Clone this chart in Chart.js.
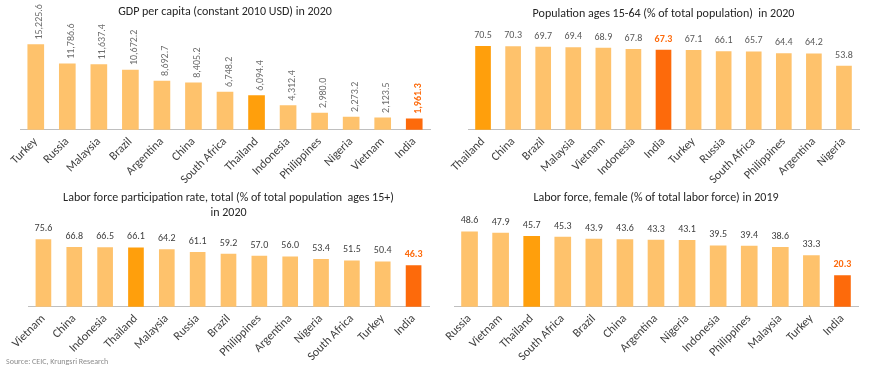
<!DOCTYPE html>
<html>
<head>
<meta charset="utf-8">
<script src="https://cdn.jsdelivr.net/npm/chart.js@4"></script>
<style>
  body { margin: 0; background: #fff; width: 870px; height: 372px; overflow: hidden; position: relative; font-family: Carlito, Lato, sans-serif; }
  .box { position: absolute; }
  .src { position: absolute; left: 6px; top: 356px; font-size: 8px; color: #8c8c8c; }
</style>
</head>
<body>
<div class="box" style="left:0;top:0;width:435px;height:192px"><canvas id="gdp"></canvas></div>
<div class="box" style="left:435px;top:0;width:435px;height:192px"><canvas id="pop"></canvas></div>
<div class="box" style="left:0;top:180px;width:435px;height:189px"><canvas id="lfp"></canvas></div>
<div class="box" style="left:435px;top:180px;width:435px;height:189px"><canvas id="fem"></canvas></div>
<div class="src">Source: CEIC, Krungsri Research</div>
<script>
const gdpLabels = ['Turkey', 'Russia', 'Malaysia', 'Brazil', 'Argentina', 'China', 'South Africa', 'Thailand', 'Indonesia', 'Philippines', 'Nigeria', 'Vietnam', 'India'];
const gdpValues = [15225.6, 11786.6, 11637.4, 10672.2, 8692.7, 8405.2, 6748.2, 6094.4, 4312.4, 2980.0, 2273.2, 2123.5, 1961.3];

const popLabels = ['Thailand', 'China', 'Brazil', 'Malaysia', 'Vietnam', 'Indonesia', 'India', 'Turkey', 'Russia', 'South Africa', 'Philippines', 'Argentina', 'Nigeria'];
const popValues = [70.5, 70.3, 69.7, 69.4, 68.9, 67.8, 67.3, 67.1, 66.1, 65.7, 64.4, 64.2, 53.8];

const lfpLabels = ['Vietnam', 'China', 'Indonesia', 'Thailand', 'Malaysia', 'Russia', 'Brazil', 'Philippines', 'Argentina', 'Nigeria', 'South Africa', 'Turkey', 'India'];
const lfpValues = [75.6, 66.8, 66.5, 66.1, 64.2, 61.1, 59.2, 57.0, 56.0, 53.4, 51.5, 50.4, 46.3];

const femLabels = ['Russia', 'Vietnam', 'Thailand', 'South Africa', 'Brazil', 'China', 'Argentina', 'Nigeria', 'Indonesia', 'Philippines', 'Malaysia', 'Turkey', 'India'];
const femValues = [48.6, 47.9, 45.7, 45.3, 43.9, 43.6, 43.3, 43.1, 39.5, 39.4, 38.6, 33.3, 20.3];

const FONT = 'Carlito, Lato, sans-serif';
const LIGHT = '#fec26c';
const THAI = '#ff9f0c';
const INDIA = '#fd6a0b';

// bar value labels (no datalabels plugin available offline)
const barLabels = {
  id: 'barLabels',
  afterDatasetsDraw(chart, args, opts) {
    const ctx = chart.ctx;
    const meta = chart.getDatasetMeta(0);
    const labels = chart.data.labels;
    const vals = chart.data.datasets[0].data;
    meta.data.forEach((bar, i) => {
      const isIndia = labels[i] === 'India';
      const txt = opts.fmt(vals[i]);
      ctx.save();
      ctx.fillStyle = isIndia ? INDIA : opts.color;
      ctx.font = (isIndia ? 'bold ' : '') + opts.size + 'px ' + FONT;
      if (opts.rotate) {
        ctx.translate(bar.x + 4, bar.y - 5);
        ctx.rotate(-Math.PI / 2);
        ctx.textAlign = 'left';
        ctx.textBaseline = 'middle';
        ctx.fillText(txt, 0, 0);
      } else {
        ctx.textAlign = 'center';
        ctx.textBaseline = 'bottom';
        ctx.fillText(txt, bar.x, bar.y - 6);
      }
      ctx.restore();
    });
  }
};

function colorsFor(labels) {
  return labels.map(l => l === 'India' ? INDIA : (l === 'Thailand' ? THAI : LIGHT));
}

function makeChart(id, labels, values, cfg) {
  return new Chart(document.getElementById(id), {
    type: 'bar',
    data: {
      labels: labels,
      datasets: [{
        data: values,
        backgroundColor: colorsFor(labels),
        barThickness: cfg.barW,
        borderWidth: 0
      }]
    },
    options: {
      responsive: true,
      maintainAspectRatio: false,
      animation: false,
      layout: { padding: cfg.padding },
      plugins: {
        legend: { display: false },
        tooltip: { enabled: false },
        title: {
          display: true,
          text: cfg.title,
          color: '#262626',
          font: { family: FONT, size: 12, weight: 'normal', lineHeight: 1.25 },
          padding: cfg.titlePad
        },
        barLabels: { rotate: cfg.rotate, fmt: cfg.fmt, size: 10, color: cfg.labelColor }
      },
      scales: {
        x: {
          grid: { display: false, drawTicks: false },
          border: { color: '#bfbfbf', width: 1 },
          ticks: {
            color: '#404040',
            font: { family: FONT, size: 12 },
            minRotation: 45,
            maxRotation: 45,
            autoSkip: false,
            padding: 5
          }
        },
        y: { display: false, min: 0, max: cfg.max }
      }
    },
    plugins: [barLabels]
  });
}

const one = v => v.toFixed(1);

makeChart('gdp', gdpLabels, gdpValues, {
  title: 'GDP per capita (constant 2010 USD) in 2020',
  max: 18000, barW: 16, rotate: true, labelColor: '#6e6e6e',
  fmt: v => v.toLocaleString('en-US', { minimumFractionDigits: 1, maximumFractionDigits: 1 }),
  padding: { left: 20, right: 5, top: 0, bottom: 0 },
  titlePad: { top: 4, bottom: 10 }
});

makeChart('pop', popLabels, popValues, {
  title: 'Population ages 15-64 (% of total population)  in 2020',
  max: 80, barW: 15, rotate: false, labelColor: '#595959', fmt: one,
  padding: { left: 33, right: 11, top: 0, bottom: 0 },
  titlePad: { top: 6, bottom: 14 }
});

makeChart('lfp', lfpLabels, lfpValues, {
  title: ['Labor force participation rate, total (% of total population  ages 15+)', 'in 2020'],
  max: 93, barW: 15, rotate: false, labelColor: '#404040', fmt: one,
  padding: { left: 28, right: 6, top: 0, bottom: 0 },
  titlePad: { top: 10, bottom: 4 }
});

makeChart('fem', femLabels, femValues, {
  title: 'Labor force, female (% of total labor force) in 2019',
  max: 57, barW: 16, rotate: false, labelColor: '#404040', fmt: one,
  padding: { left: 19, right: 12, top: 0, bottom: 0 },
  titlePad: { top: 10, bottom: 14 }
});
</script>
</body>
</html>
